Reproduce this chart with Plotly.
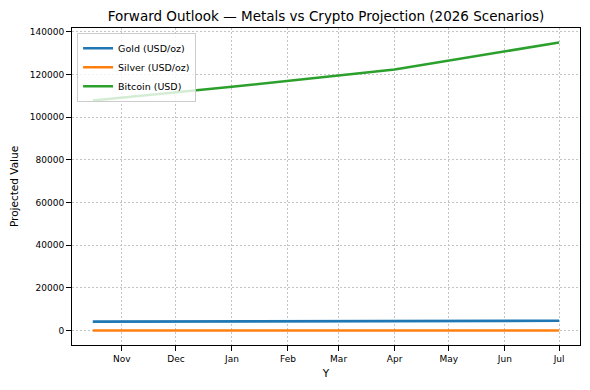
import plotly.graph_objects as go
import pandas as pd

dates = ["2025-10-16", "2026-01-01", "2026-04-01", "2026-07-01"]
gold = [4200, 4300, 4420, 4580]
silver = [50, 52, 55, 58]
bitcoin = [107800, 114200, 122300, 135000]

series = [
    ("Gold (USD/oz)", gold, "#1f77b4"),
    ("Silver (USD/oz)", silver, "#ff7f0e"),
    ("Bitcoin (USD)", bitcoin, "#2ca02c"),
]

fig = go.Figure()
for name, vals, col in series:
    fig.add_trace(go.Scatter(x=pd.to_datetime(dates), y=vals, mode="lines", name=name,
                             line=dict(color=col, width=2.6)))

font = "DejaVu Sans"
axis_common = dict(showline=True, linecolor="black", linewidth=1, mirror=True,
                   ticks="outside", ticklen=5, tickcolor="black", tickwidth=1,
                   showgrid=True, gridcolor="#c4c4c4", griddash="2px,2px", gridwidth=0.7,
                   zeroline=False, automargin=False,
                   tickfont=dict(family=font, size=9, color="black"))

fig.update_layout(
    width=590, height=390,
    margin=dict(l=72, r=10, t=28, b=45, autoexpand=False),
    paper_bgcolor="white", plot_bgcolor="white",
    title=dict(text="Forward Outlook — Metals vs Crypto Projection (2026 Scenarios)",
               x=(72 + 580) / 2 / 590, xanchor="center", y=1 - 16 / 390, yanchor="middle",
               font=dict(family=font, size=13.5, color="black"), automargin=False),
    xaxis=dict(axis_common, range=["2025-10-04 12:00", "2026-07-12 14:00"], tick0="2025-11-01",
               dtick="M1", tickformat="%b",
               title=dict(text="Y", font=dict(family=font, size=10.5, color="black"), standoff=6)),
    yaxis=dict(axis_common, range=[-6750, 141750], tick0=0, dtick=20000,
               tickformat="d",
               title=dict(text="Projected Value", font=dict(family=font, size=10.5, color="black"), standoff=9)),
    legend=dict(x=0.01, y=0.985, xanchor="left", yanchor="top",
                bgcolor="rgba(255,255,255,0.8)", bordercolor="#cccccc", borderwidth=1,
                font=dict(family=font, size=9.5, color="black"), itemwidth=30,
                tracegroupgap=0),
    showlegend=True,
)

fig.write_html("out.html", config={"displayModeBar": False},
               post_script="document.body.style.margin='0';document.body.style.overflow='hidden';")
